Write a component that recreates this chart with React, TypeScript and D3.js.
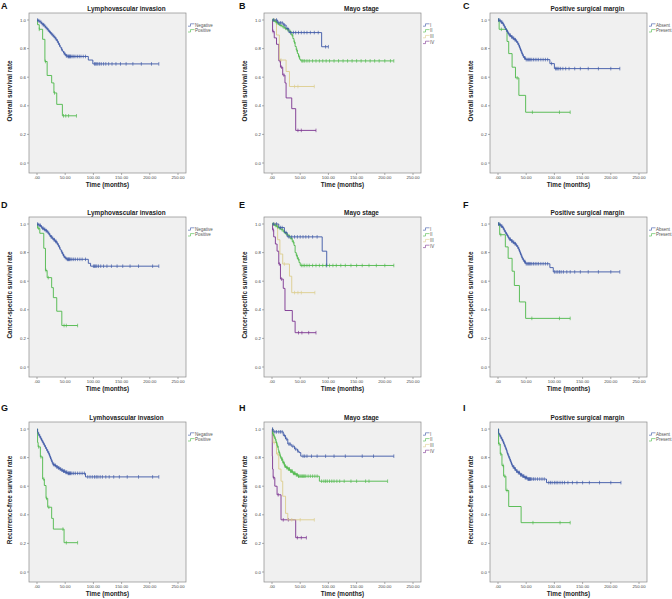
import React from "react";
import * as d3 from "d3";

type Step = [number, number];

// ---------- axis ticks ----------
const timeTicks = [0, 50, 100, 150, 200, 250];
const timeTickLabels = [".00", "50.00", "100.00", "150.00", "200.00", "250.00"];
const rateTicks = [0, 0.2, 0.4, 0.6, 0.8, 1.0];
const rateTickLabels = ["0.0", "0.2", "0.4", "0.6", "0.8", "1.0"];

// ---------- panel texts ----------
const panelLetters = ["A", "B", "C", "D", "E", "F", "G", "H", "I"];
const panelTitles = [
  "Lymphovascular invasion", "Mayo stage", "Positive surgical margin",
  "Lymphovascular invasion", "Mayo stage", "Positive surgical margin",
  "Lymhovascular invasion", "Mayo stage", "Positive surgical margin",
];
const yAxisTitles = [
  "Overall survival rate", "Overall survival rate", "Overall survival rate",
  "Cancer-specific survival rate", "Cancer-specific survival rate", "Cancer-specific survival rate",
  "Recurrence-free survival rate", "Recurrence-free survival rate", "Recurrence-free survival rate",
];
const xAxisTitle = "Time (months)";
const lviGroups = ["Negative", "Positive"];
const mayoGroups = ["I", "II", "III", "IV"];
const marginGroups = ["Absent", "Present"];

// ---------- A: OS, lymphovascular invasion ----------
const aNegSteps: Step[] = [[2,0.995],[4,0.99],[6,0.985],[8,0.975],[10,0.967],[13,0.958],[15,0.948],[17,0.94],[19,0.93],[21,0.92],[23,0.912],[25,0.903],[27,0.895],[29,0.886],[31,0.877],[33,0.866],[35,0.855],[37,0.84],[39,0.825],[41,0.81],[43,0.795],[45,0.782],[47,0.77],[49,0.76],[51,0.75],[54,0.745],[91,0.72],[99,0.693]];
const aNegEnd = 216;
const aNegCensor = [1,3,5,7,9,11,12,14,16,18,20,22,24,26,28,30,32,34,36,38,40,44,48,50,52,53,55,56,57,58,59,60,62,64,66,69,72,75,78,82,86,102,104,106,108,111,114,118,122,127,133,140,148,158,170,185,203,216];
const aPosSteps: Step[] = [[1,0.967],[4,0.935],[10,0.865],[14,0.71],[18,0.612],[26,0.56],[30,0.49],[35,0.41],[45,0.33]];
const aPosEnd = 70;
const aPosCensor = [4,15,31,47,51,56,70];

// ---------- B: OS, Mayo stage ----------
const bISteps: Step[] = [[10,0.98],[20,0.965],[25,0.94],[30,0.912],[88,0.813]];
const bIEnd = 100;
const bICensor = [3,8,12,15,18,22,28,33,38,42,47,52,57,62,68,75,82,95,100];
const bIISteps: Step[] = [[4,0.99],[8,0.98],[11,0.97],[14,0.962],[18,0.952],[22,0.942],[26,0.932],[30,0.92],[34,0.895],[37,0.87],[39,0.845],[41,0.815],[43,0.79],[45,0.765],[47,0.745],[49,0.725],[51,0.714]];
const bIIEnd = 216;
const bIICensor = [2,6,9,13,16,20,24,28,32,36,40,44,48,53,55,58,62,66,72,78,84,90,96,102,110,118,126,134,142,150,158,166,174,182,190,200,210,216];
const bIIISteps: Step[] = [[8,0.895],[13,0.72],[25,0.64],[31,0.535]];
const bIIIEnd = 75;
const bIIICensor = [4,16,40,46,75];
const bIVSteps: Step[] = [[1,0.92],[4,0.875],[8,0.83],[12,0.715],[15,0.67],[19,0.615],[23,0.56],[25,0.455],[35,0.38],[42,0.228]];
const bIVEnd = 78;
const bIVCensor = [2,14,17,21,46,52,78];

// ---------- C: OS, surgical margin ----------
const cAbsSteps: Step[] = [[3,0.995],[5,0.985],[8,0.975],[10,0.96],[12,0.945],[14,0.93],[16,0.918],[18,0.905],[20,0.893],[23,0.882],[26,0.872],[29,0.862],[32,0.852],[34,0.84],[36,0.825],[38,0.805],[40,0.785],[42,0.765],[44,0.748],[46,0.735],[49,0.723],[92,0.695],[100,0.66]];
const cAbsEnd = 216;
const cAbsCensor = [1,2,4,6,7,9,11,13,15,17,19,21,22,24,25,27,28,30,31,33,35,37,39,41,43,45,47,48,50,52,54,56,58,60,63,66,69,72,76,80,84,88,95,102,104,106,108,111,115,120,126,136,146,160,178,200,216];
const cPresSteps: Step[] = [[2,0.935],[16,0.85],[19,0.765],[25,0.67],[31,0.595],[37,0.473],[49,0.355]];
const cPresEnd = 128;
const cPresCensor = [1,6,34,61,109,128];

// ---------- D: CSS, lymphovascular invasion ----------
const dNegSteps: Step[] = [[2,0.995],[4,0.99],[7,0.98],[9,0.97],[12,0.962],[15,0.953],[18,0.945],[20,0.935],[22,0.922],[24,0.91],[27,0.9],[29,0.89],[32,0.878],[35,0.865],[37,0.852],[39,0.837],[41,0.82],[43,0.805],[45,0.79],[47,0.775],[49,0.765],[51,0.758],[53,0.753],[91,0.725],[95,0.705]];
const dNegEnd = 216;
const dNegCensor = [1,3,5,6,8,10,11,13,14,16,17,19,21,23,25,26,28,30,31,33,34,36,38,40,44,46,48,50,52,54,55,56,57,58,60,62,65,68,72,76,80,86,100,102,104,106,109,113,118,124,132,142,152,165,180,205,216];
const dPosSteps: Step[] = [[1,0.97],[5,0.935],[12,0.83],[15,0.675],[18,0.625],[26,0.555],[29,0.485],[35,0.39],[44,0.29]];
const dPosEnd = 72;
const dPosCensor = [3,16,20,48,52,72];

// ---------- E: CSS, Mayo stage ----------
const eISteps: Step[] = [[12,0.975],[22,0.94],[27,0.91],[89,0.81],[97,0.71]];
const eIEnd = 97;
const eICensor = [3,8,15,18,25,30,35,40,45,50,55,60,65,72,80,97];
const eIISteps: Step[] = [[4,0.99],[8,0.98],[12,0.97],[16,0.96],[20,0.945],[24,0.93],[28,0.918],[32,0.9],[36,0.875],[39,0.85],[41,0.8],[43,0.78],[45,0.755],[48,0.73],[50,0.71]];
const eIIEnd = 216;
const eIICensor = [2,6,10,14,18,22,26,30,34,38,44,47,52,55,58,62,66,72,78,84,90,96,102,108,114,122,130,140,150,160,172,185,200,216];
const eIIISteps: Step[] = [[10,0.89],[14,0.79],[19,0.72],[31,0.635],[35,0.52]];
const eIIIEnd = 76;
const eIIICensor = [5,22,40,46,52,76];
const eIVSteps: Step[] = [[1,0.96],[3,0.91],[6,0.86],[9,0.81],[12,0.72],[15,0.615],[20,0.55],[23,0.395],[36,0.32],[41,0.24]];
const eIVEnd = 78;
const eIVCensor = [2,13,17,47,53,65,78];

// ---------- F: CSS, surgical margin ----------
const fAbsSteps: Step[] = [[3,0.995],[5,0.985],[8,0.975],[10,0.96],[12,0.945],[14,0.932],[16,0.92],[18,0.905],[20,0.893],[23,0.882],[26,0.872],[29,0.862],[32,0.852],[34,0.84],[36,0.825],[38,0.805],[40,0.785],[42,0.765],[44,0.75],[46,0.737],[49,0.722],[92,0.695],[98,0.665]];
const fAbsEnd = 216;
const fAbsCensor = [1,2,4,6,7,9,11,13,15,17,19,21,22,24,25,27,28,30,31,33,35,37,39,41,43,45,47,48,50,52,54,56,58,60,63,66,69,72,76,80,84,88,100,103,106,109,112,116,122,128,136,146,160,178,200,216];
const fPresSteps: Step[] = [[3,0.925],[13,0.84],[18,0.76],[25,0.67],[29,0.57],[38,0.455],[49,0.34]];
const fPresEnd = 128;
const fPresCensor = [1,5,60,109,128];

// ---------- G: RFS, lymphovascular invasion ----------
const gNegSteps: Step[] = [[1,0.98],[2,0.965],[4,0.95],[6,0.935],[8,0.92],[10,0.905],[12,0.89],[14,0.875],[16,0.86],[18,0.845],[20,0.83],[22,0.81],[24,0.79],[26,0.77],[28,0.752],[31,0.745],[34,0.735],[37,0.728],[40,0.72],[43,0.712],[46,0.705],[50,0.697],[54,0.69],[86,0.665]];
const gNegEnd = 216;
const gNegCensor = [3,5,7,9,11,13,15,17,19,21,23,25,27,29,30,32,33,35,36,38,39,41,42,44,45,47,48,49,51,52,53,55,56,57,58,59,60,62,65,68,72,76,80,84,90,94,98,102,105,108,112,116,122,128,136,146,160,180,205,216];
const gPosSteps: Step[] = [[1,0.906],[2,0.875],[6,0.805],[10,0.65],[13,0.605],[16,0.515],[19,0.453],[26,0.375],[29,0.3],[48,0.205]];
const gPosEnd = 72;
const gPosCensor = [3,7,12,17,21,46,52,72];

// ---------- H: RFS, Mayo stage ----------
const hISteps: Step[] = [[2,0.98],[20,0.955],[24,0.93],[28,0.895],[34,0.88],[40,0.86],[45,0.845],[48,0.835],[51,0.81]];
const hIEnd = 216;
const hICensor = [1,5,8,12,15,18,22,26,30,32,37,42,46,55,58,62,70,80,95,110,130,160,180,216];
const hIISteps: Step[] = [[1,0.965],[3,0.95],[5,0.93],[7,0.905],[9,0.88],[11,0.855],[12,0.835],[14,0.81],[16,0.79],[19,0.765],[22,0.74],[25,0.73],[28,0.72],[32,0.705],[37,0.69],[42,0.68],[46,0.67],[84,0.635]];
const hIIEnd = 205;
const hIICensor = [2,4,6,8,10,13,15,17,18,20,21,23,24,26,27,29,30,31,33,34,35,36,38,39,40,41,43,44,45,47,48,50,52,54,56,58,60,64,68,72,76,80,88,92,95,98,102,106,110,115,120,128,140,150,166,172,205];
const hIIISteps: Step[] = [[2,0.905],[8,0.825],[12,0.72],[16,0.635],[19,0.53],[24,0.41],[28,0.365]];
const hIIIEnd = 75;
const hIIICensor = [4,10,35,50,75];
const hIVSteps: Step[] = [[0.5,0.81],[1,0.72],[2,0.66],[5,0.6],[9,0.54],[16,0.365],[42,0.24]];
const hIVEnd = 61;
const hIVCensor = [3,11,20,29,45,52,61];

// ---------- I: RFS, surgical margin ----------
const iAbsSteps: Step[] = [[1,0.97],[2,0.96],[4,0.945],[6,0.93],[8,0.915],[10,0.895],[12,0.875],[14,0.855],[16,0.83],[18,0.81],[20,0.79],[22,0.77],[24,0.75],[26,0.735],[29,0.72],[32,0.705],[35,0.695],[39,0.68],[43,0.67],[47,0.66],[52,0.65],[86,0.625]];
const iAbsEnd = 218;
const iAbsCensor = [3,5,7,9,11,13,15,17,19,21,23,25,27,28,30,31,33,34,36,37,38,40,41,42,44,45,46,48,49,50,51,53,54,55,56,57,58,60,63,66,70,74,78,82,90,93,96,100,103,106,110,114,118,124,132,140,150,162,180,200,218];
const iPresSteps: Step[] = [[1,0.895],[4,0.825],[7,0.745],[10,0.67],[14,0.57],[19,0.458],[41,0.345]];
const iPresEnd = 128;
const iPresCensor = [2,5,9,12,16,62,110,128];

// ---------- styles ----------
const BLUE = "#3b56a6";
const GREEN = "#4cb848";
const TAN = "#dccd8c";
const PURPLE = "#7a3290";
const twoColors = [BLUE, GREEN];
const fourColors = [BLUE, GREEN, TAN, PURPLE];
const FONT = "'Liberation Sans', Arial, Helvetica, sans-serif";

type Curve = { steps: Step[]; end: number; censor: number[] };
const c = (steps: Step[], end: number, censor: number[]): Curve => ({ steps, end, censor });

const panelCurves: Curve[][] = [
  [c(aNegSteps, aNegEnd, aNegCensor), c(aPosSteps, aPosEnd, aPosCensor)],
  [c(bISteps, bIEnd, bICensor), c(bIISteps, bIIEnd, bIICensor), c(bIIISteps, bIIIEnd, bIIICensor), c(bIVSteps, bIVEnd, bIVCensor)],
  [c(cAbsSteps, cAbsEnd, cAbsCensor), c(cPresSteps, cPresEnd, cPresCensor)],
  [c(dNegSteps, dNegEnd, dNegCensor), c(dPosSteps, dPosEnd, dPosCensor)],
  [c(eISteps, eIEnd, eICensor), c(eIISteps, eIIEnd, eIICensor), c(eIIISteps, eIIIEnd, eIIICensor), c(eIVSteps, eIVEnd, eIVCensor)],
  [c(fAbsSteps, fAbsEnd, fAbsCensor), c(fPresSteps, fPresEnd, fPresCensor)],
  [c(gNegSteps, gNegEnd, gNegCensor), c(gPosSteps, gPosEnd, gPosCensor)],
  [c(hISteps, hIEnd, hICensor), c(hIISteps, hIIEnd, hIICensor), c(hIIISteps, hIIIEnd, hIIICensor), c(hIVSteps, hIVEnd, hIVCensor)],
  [c(iAbsSteps, iAbsEnd, iAbsCensor), c(iPresSteps, iPresEnd, iPresCensor)],
];
const panelGroups = [lviGroups, mayoGroups, marginGroups, lviGroups, mayoGroups, marginGroups, lviGroups, mayoGroups, marginGroups];

// ---------- layout ----------
const colLeft = [29, 264, 490];
const rowTop = [13, 217, 422];
const letterX = [1, 239, 463];
const letterY = [9, 208, 411];
const boxW = 157;
const boxH = 160;

function survivalAt(steps: Step[], t: number): number {
  let s = 1;
  for (const [st, sv] of steps) {
    if (st <= t) s = sv;
    else break;
  }
  return s;
}

function Panel({ idx }: { idx: number }) {
  const col = idx % 3;
  const row = Math.floor(idx / 3);
  const left = colLeft[col];
  const top = rowTop[row];
  const x = d3.scaleLinear().domain([0, 250]).range([left + 8, left + 149]);
  const y = d3.scaleLinear().domain([0, 1]).range([top + 150, top + 7]);
  const curves = panelCurves[idx];
  const groups = panelGroups[idx];
  const colors = groups.length === 4 ? fourColors : twoColors;
  const line = d3
    .line<Step>()
    .x((d) => x(d[0]))
    .y((d) => y(d[1]))
    .curve(d3.curveStepAfter);
  const bottom = top + boxH;
  const legendX = left + boxW + 2;
  return (
    <g>
      <text x={letterX[col]} y={letterY[row]} fontSize={9} fontWeight="bold" fontFamily={FONT} fill="#111">
        {panelLetters[idx]}
      </text>
      <text x={left + boxW / 2 + 19} y={top - 2.5} fontSize={6.4} fontWeight="bold" fontFamily={FONT} textAnchor="middle" fill="#222">
        {panelTitles[idx]}
      </text>
      <rect x={left} y={top} width={boxW} height={boxH} fill="#f0f0f0" stroke="#8a8a8a" strokeWidth={0.7} />
      {rateTicks.map((v, i) => (
        <g key={"y" + i}>
          <line x1={left - 2} x2={left} y1={y(v)} y2={y(v)} stroke="#777" strokeWidth={0.6} />
          <text x={left - 3} y={y(v) + 1.5} fontSize={4.3} fontFamily={FONT} textAnchor="end" fill="#444">
            {rateTickLabels[i]}
          </text>
        </g>
      ))}
      {timeTicks.map((v, i) => (
        <g key={"x" + i}>
          <line x1={x(v)} x2={x(v)} y1={bottom} y2={bottom + 2} stroke="#777" strokeWidth={0.6} />
          <text x={x(v)} y={bottom + 6.3} fontSize={4.3} fontFamily={FONT} textAnchor="middle" fill="#444">
            {timeTickLabels[i]}
          </text>
        </g>
      ))}
      <text x={left + boxW / 2} y={bottom + 14} fontSize={6.3} fontWeight="bold" fontFamily={FONT} textAnchor="middle" fill="#222">
        {xAxisTitle}
      </text>
      <text
        transform={`translate(${left - 17},${top + boxH / 2 - 2}) rotate(-90)`}
        fontSize={6.4}
        fontWeight="bold"
        fontFamily={FONT}
        textAnchor="middle"
        fill="#222"
      >
        {yAxisTitles[idx]}
      </text>
      {curves
        .map((cv, ci) => ({ cv, ci }))
        .reverse()
        .map(({ cv, ci }) => {
          const last = cv.steps.length ? cv.steps[cv.steps.length - 1][1] : 1;
          const pts: Step[] = [[0, 1], ...cv.steps, [cv.end, last]];
          return (
            <g key={"c" + ci}>
              <path d={line(pts) || ""} fill="none" stroke={colors[ci]} strokeWidth={0.9} />
              {cv.censor.map((t, k) => {
                const cx = x(t);
                const cy = y(survivalAt(cv.steps, t));
                return (
                  <line key={k} x1={cx} x2={cx} y1={cy - 1.8} y2={cy + 1.8} stroke={colors[ci]} strokeWidth={0.65} />
                );
              })}
            </g>
          );
        })}
      {groups.map((g, gi) => {
        const ly = top + 12 + gi * 5.8;
        return (
          <g key={"l" + gi}>
            <path
              d={`M${legendX},${ly + 1.2} h2.5 v-2.4 h4`}
              fill="none"
              stroke={colors[gi]}
              strokeWidth={0.6}
            />
            <text x={legendX + 7} y={ly + 1.5} fontSize={4.5} fontFamily={FONT} fill="#555">
              {g}
            </text>
          </g>
        );
      })}
    </g>
  );
}

export default function App() {
  return (
    <svg
      width={672}
      height={599}
      viewBox="0 0 672 599"
      style={{ position: "absolute", left: 0, top: 0, background: "#fff" }}
    >
      <rect x={0} y={0} width={672} height={599} fill="#fff" />
      {panelLetters.map((_, i) => (
        <Panel key={i} idx={i} />
      ))}
    </svg>
  );
}
